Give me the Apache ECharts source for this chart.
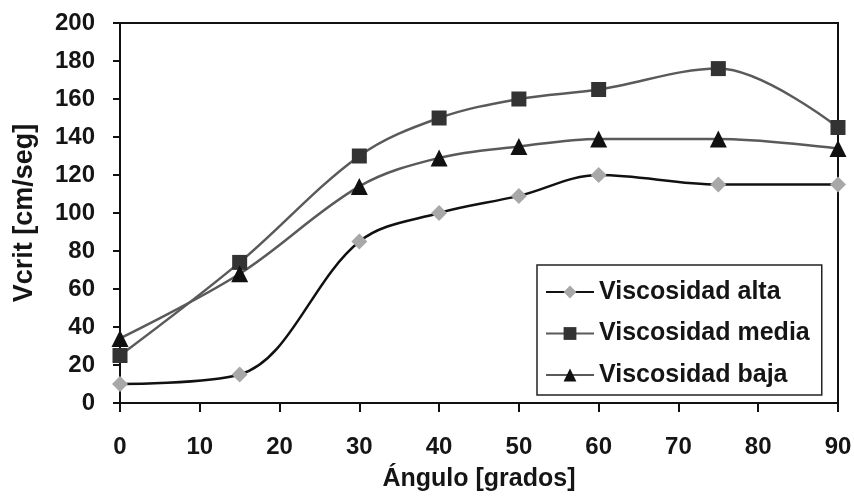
<!DOCTYPE html>
<html><head><meta charset="utf-8">
<script src="https://cdn.jsdelivr.net/npm/echarts@6/dist/echarts.min.js"></script>
<style>html,body{margin:0;padding:0;background:#fff}#c{width:854px;height:498px}</style>
</head><body><div id="c"></div>
<script>
const angles = [0, 15, 30, 40, 50, 60, 75, 90];
const altaValues = [10, 15, 85, 100, 109, 120, 115, 115];
const mediaValues = [25, 74, 130, 150, 160, 165, 176, 145];
const bajaValues = [34, 68, 114, 129, 135, 139, 139, 134];
const seriesNames = ['Viscosidad alta', 'Viscosidad media', 'Viscosidad baja'];
const xTicks = [0, 10, 20, 30, 40, 50, 60, 70, 80, 90];
const yTicks = [0, 20, 40, 60, 80, 100, 120, 140, 160, 180, 200];

const pairs = v => angles.map((a, i) => [a, v[i]]);
const font = {fontFamily: '"Liberation Sans", Arial, sans-serif', fontWeight: 'bold', color: '#151515'};

const chart = echarts.init(document.getElementById('c'), null, {renderer: 'canvas'});
chart.setOption({
  animation: false,
  backgroundColor: '#fff',
  grid: {left: 120, right: 16, top: 23, bottom: 95, outerBoundsMode: 'none', containLabel: false,
         show: true, borderColor: '#111', borderWidth: 2, backgroundColor: 'transparent'},
  legend: {
    orient: 'vertical', left: 537, top: 265,
    itemWidth: 48, itemHeight: 16, itemGap: 15.5,
    padding: [14, 12, 7, 8],
    borderColor: '#222', borderWidth: 1.5,
    backgroundColor: '#fff',
    textStyle: Object.assign({}, font, {fontSize: 25, lineHeight: 26}),
    data: seriesNames
  },
  xAxis: {
    type: 'value', min: xTicks[0], max: xTicks[xTicks.length - 1], interval: 10,
    name: 'Ángulo [grados]', nameLocation: 'middle', nameGap: 64,
    nameTextStyle: Object.assign({}, font, {fontSize: 25}),
    axisLine: {lineStyle: {color: '#111', width: 2}},
    axisTick: {show: true, length: 9, lineStyle: {color: '#111', width: 2}},
    axisLabel: Object.assign({}, font, {fontSize: 24, margin: 32}),
    splitLine: {show: false}
  },
  yAxis: {
    type: 'value', min: yTicks[0], max: yTicks[yTicks.length - 1], interval: 20,
    name: 'Vcrit [cm/seg]', nameLocation: 'middle', nameGap: 82, nameRotate: 90,
    nameTextStyle: Object.assign({}, font, {fontSize: 27}),
    axisLine: {show: true, lineStyle: {color: '#111', width: 2}},
    axisTick: {show: true, length: 7, lineStyle: {color: '#111', width: 2}},
    axisLabel: Object.assign({}, font, {fontSize: 24, margin: 25}),
    splitLine: {show: false}
  },
  series: [
    {name: seriesNames[0], type: 'line', smooth: 0.35, data: pairs(altaValues),
     symbol: 'diamond', symbolSize: 16,
     lineStyle: {color: '#111', width: 2.5}, itemStyle: {color: '#a8a8a8'}, z: 3},
    {name: seriesNames[1], type: 'line', smooth: 0.35, data: pairs(mediaValues),
     symbol: 'rect', symbolSize: 15,
     lineStyle: {color: '#5a5a5a', width: 2.5}, itemStyle: {color: '#333'}, z: 2},
    {name: seriesNames[2], type: 'line', smooth: 0.35, data: pairs(bajaValues),
     symbol: 'triangle', symbolSize: 17,
     lineStyle: {color: '#5a5a5a', width: 2.5}, itemStyle: {color: '#111'}, z: 2}
  ]
});
</script></body></html>
